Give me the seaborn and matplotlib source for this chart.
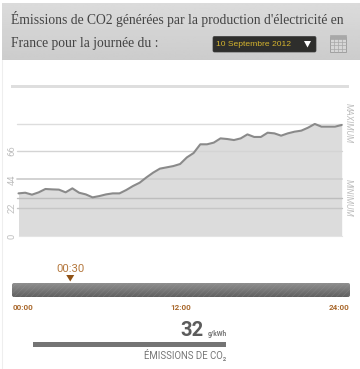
import numpy as np
import pandas as pd
import matplotlib
matplotlib.use("Agg")
import matplotlib.pyplot as plt
from matplotlib.patches import Rectangle, FancyBboxPatch, Polygon
import seaborn as sns

# ---- data ----
hours = [i / 2 for i in range(49)]
co2 = [33.1, 33.6, 32.1, 33.9, 36.5, 36.2, 36.0, 33.9, 37.0, 33.6,
       32.3, 30.0, 31.0, 32.3, 33.1, 33.1, 35.7, 38.8, 41.4, 45.5,
       49.2, 52.3, 53.3, 54.3, 55.9, 61.0, 64.4, 71.2, 71.2, 72.5,
       75.8, 75.3, 74.5, 75.8, 78.9, 76.9, 76.9, 80.2, 79.7, 77.9,
       79.7, 81.0, 81.8, 84.1, 87.0, 84.9, 84.9, 84.9, 86.2]
y_ticks = [0, 22, 44, 66]
minimum_level = 29.5
maximum_level = 86.6
title_lines = ["Émissions de CO2 générées par la production d'électricité en",
               "France pour la journée du :"]
date_label = "10 Septembre 2012"
slider_labels = ["00:00", "12:00", "24:00"]
slider_hours = [0, 12, 24]
current_time = "00:30"
current_hour = 4.1
current_value = "32"
unit = "g/kWh"
value_caption = "ÉMISSIONS DE CO₂"

W, H = 360, 369
sns.set_theme(style="white")
plt.rcParams['font.family'] = ['Roboto', 'DejaVu Sans']
fig = plt.figure(figsize=(W / 100, H / 100), dpi=100, facecolor="white")

# overlay in pixel coordinates for page furniture
bg = fig.add_axes([0, 0, 1, 1], zorder=0)
bg.set_xlim(0, W); bg.set_ylim(H, 0); bg.axis("off")

# header band
grad = np.linspace(0.86, 0.80, 64).reshape(-1, 1)
bg.imshow(grad, extent=[2, W, 60, 3], cmap="gray", vmin=0, vmax=1, aspect="auto", zorder=1)
bg.set_xlim(0, W); bg.set_ylim(H, 0)
bg.plot([1.5, 1.5], [60, H], color="#eeeeee", lw=0.8, zorder=1)
serif = ['Liberation Serif', 'DejaVu Serif']
bg.text(11, 19, title_lines[0], family=serif, fontsize=9.8, color="#444444", va="center", ha="left", zorder=3)
bg.text(11, 43, title_lines[1], family=serif, fontsize=9.8, color="#444444", va="center", ha="left", zorder=3)

# dropdown
bg.add_patch(FancyBboxPatch((213, 36.5), 103, 15.5, boxstyle="round,pad=0,rounding_size=1.5",
                            fc="#2e2e2c", ec="#3a3a3a", lw=0.5, zorder=2))
bg.text(216, 44.5, date_label, family=['Liberation Sans', 'DejaVu Sans'], fontsize=6.1,
        color="#d6b52e", va="center", ha="left", zorder=3)
bg.add_patch(Polygon([[304, 41], [311, 41], [307.5, 47.5]], closed=True, fc="white", ec="none", zorder=3))

# calendar icon
bg.add_patch(Rectangle((329.5, 37), 16, 14.5, fc="#d6d6d6", ec="#a0a0a0", lw=0.7, zorder=2))
bg.add_patch(Rectangle((329.5, 35), 16, 3.5, fc="#a8a8a8", ec="#a8a8a8", lw=0.5, zorder=2))
for gx in [333.5, 337.5, 341.5]:
    bg.plot([gx, gx], [38, 51.5], color="#a8a8a8", lw=0.5, zorder=3)
for gy in [41.5, 45, 48.5]:
    bg.plot([329.5, 345.5], [gy, gy], color="#a8a8a8", lw=0.5, zorder=3)

# top rule
bg.add_patch(Rectangle((11, 85), 338, 3, fc="#dedede", ec="none", zorder=2))

# main chart: plot spans x 18.5..341.7, y 236 (0) up to 112
x0, x1, ybase, ytop = 18.5, 341.7, 236.0, 112.0
ax = fig.add_axes([x0 / W, 1 - ybase / H, (x1 - x0) / W, (ybase - ytop) / H],
                  zorder=2, facecolor="none")
df = pd.DataFrame({"hour": hours, "co2": co2})
ax.set_xlim(0, 24)
ax.set_ylim(0, (ybase - ytop) / (85.0 / 66))
ax.fill_between(df["hour"], 0, df["co2"], color="#dcdcdc", lw=0, zorder=1)
line_styles = {maximum_level: ("#dddddd", 1.0), 66: ("#d4d4d4", 1.0), 44: ("#cfcfcf", 1.3),
               minimum_level: ("#bdbdbd", 1.0), 22: ("#c6c6c6", 1.0)}
for lev, (c, lw) in line_styles.items():
    ax.axhline(lev, xmin=-0.005, xmax=1, color=c, lw=lw, zorder=2, clip_on=False)
sns.lineplot(data=df, x="hour", y="co2", ax=ax, color="#8a8a8a", lw=1.5, zorder=3,
             errorbar=None, clip_on=False)
ax.set_xlabel(""); ax.set_ylabel("")
ax.set_xticks([])
ax.set_yticks(y_ticks)
ax.set_yticklabels([str(t) for t in y_ticks], rotation=90, va="center", color="#c0c0c0", fontsize=6.8)
ax.tick_params(axis="y", length=0, pad=1.5)
for s in ax.spines.values():
    s.set_visible(False)
ax.spines["bottom"].set_visible(True); ax.spines["bottom"].set_color("#e4e4e4"); ax.spines["bottom"].set_linewidth(0.8)
ax.axvline(24, color="#e8e8e8", lw=0.6, ymax=maximum_level / ax.get_ylim()[1])

fg = fig.add_axes([0, 0, 1, 1], zorder=3, facecolor="none")
fg.set_xlim(0, W); fg.set_ylim(H, 0); fg.axis("off")
fg.text(348.5, 123.5, "MAXIMUM", rotation=270, ha="center", va="center", fontsize=6.2, color="#c0c0c0", style="italic")
fg.text(348.5, 198, "MINIMUM", rotation=270, ha="center", va="center", fontsize=6.2, color="#c0c0c0", style="italic")

# slider
sx0, sx1 = 12, 350
g2 = np.linspace(0.56, 0.38, 32).reshape(-1, 1)
im = fg.imshow(g2, extent=[sx0, sx1, 297, 283], cmap="gray", vmin=0, vmax=1, aspect="auto", zorder=1)
fg.set_xlim(0, W); fg.set_ylim(H, 0)
clip = FancyBboxPatch((sx0, 283), sx1 - sx0, 14, boxstyle="round,pad=0,rounding_size=2",
                      fc="none", ec="none", transform=fg.transData)
fg.add_patch(clip); im.set_clip_path(clip)
plt.rcParams['hatch.linewidth'] = 0.3
fg.add_patch(Rectangle((sx0, 283), sx1 - sx0, 14, fc="none", ec="#9a9a9a", lw=0, hatch="//////", zorder=2, alpha=0.5))

def hx(h):
    return sx0 + (sx1 - sx0) * h / 24

brown = "#a9682c"
for lab, h, ha, off in zip(slider_labels, slider_hours, ["left", "center", "right"], [1, 0, -1]):
    fg.text(hx(h) + off, 307, lab, ha=ha, va="center", fontsize=5.8, fontweight="bold", color=brown)
cx = hx(current_hour) + 0.5
fg.text(cx, 269, current_time, ha="center", va="center", fontsize=8.2, color="#b5793f")
fg.add_patch(Polygon([[cx - 4, 275], [cx + 4, 275], [cx, 281.5]], closed=True, fc="#8f5216", ec="none"))

# reading
fg.text(203.5, 330, current_value, ha="right", va="center", fontsize=14.5, fontweight="bold", color="#5c5c5c")
fg.text(208, 334, unit, ha="left", va="center", fontsize=4.8, fontweight="bold", color="#777777")
fg.add_patch(Rectangle((33, 341.5), 192.5, 5, fc="#747474", ec="none"))
fg.text(226, 355, value_caption, ha="right", va="center", fontsize=6.9, color="#777777")

fig.savefig("out.png", dpi=100)
